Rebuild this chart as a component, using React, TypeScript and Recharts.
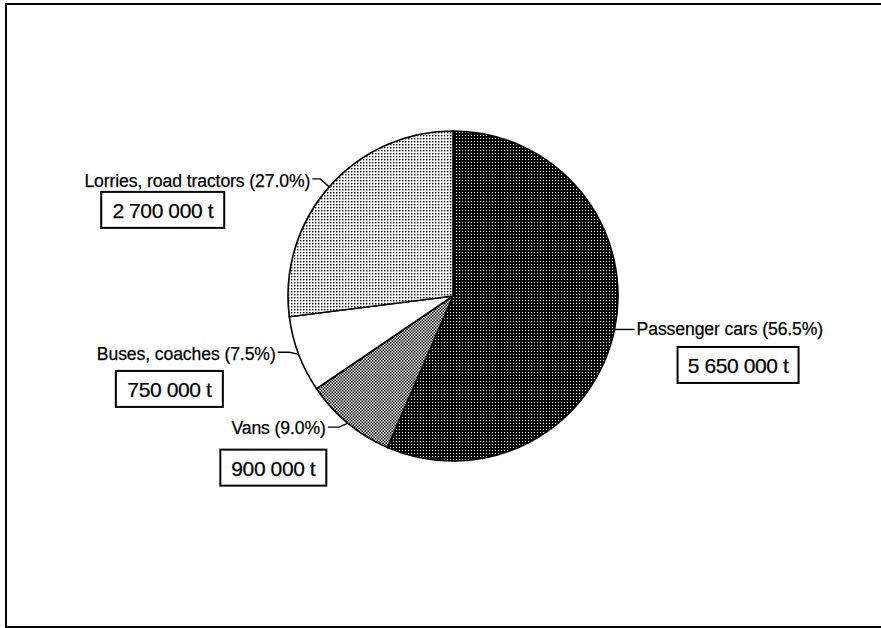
import { PieChart, Pie, Cell } from "recharts";

const categories = ["Passenger cars", "Vans", "Buses, coaches", "Lorries, road tractors"];
const percents = [56.5, 9.0, 7.5, 27.0];
const tonnes = [5650000, 900000, 750000, 2700000];

const fills = ["url(#dark)", "url(#checker)", "#ffffff", "url(#light)"];

// label placement relative to the slice edge at the mid angle
const labelLayout = [
  { elbow: [20, 0], text: [22, 0], anchor: "start", box: [123.5, 35.5], boxW: 121 },
  { elbow: [-9, 4], text: [-22, 5], anchor: "end", box: [-74.5, 44.5], boxW: 106 },
  { elbow: [-9, -2], text: [-23, 0], anchor: "end", box: [-129.3, 34.6], boxW: 107 },
  { elbow: [-9, -8], text: [-19, -6], anchor: "end", box: [-166.5, 23], boxW: 123 },
];

const data = categories.map((name, i) => ({ name, value: percents[i], t: tonnes[i] }));

const RAD = Math.PI / 180;
const FONT = "'Liberation Sans', Arial, Helvetica, sans-serif";

function fmtT(v: number) {
  return v.toString().replace(/\B(?=(\d{3})+(?!\d))/g, " ") + " t";
}

function renderLabel(props: any) {
  const { cx, cy, midAngle, outerRadius, index } = props;
  const ex = cx + outerRadius * Math.cos(-midAngle * RAD);
  const ey = cy + outerRadius * Math.sin(-midAngle * RAD);
  const L = labelLayout[index];
  const bx = ex + L.box[0];
  const by = ey + L.box[1];
  const bh = 36;
  return (
    <g key={"lbl" + index}>
      <polyline
        points={`${ex},${ey} ${ex + L.elbow[0]},${ey + L.elbow[1]} ${ex + L.text[0] + (L.anchor === "end" ? 2 : -2)},${ey + L.elbow[1]}`}
        fill="none"
        stroke="#000"
        strokeWidth={1.4}
      />
      <text
        x={ex + L.text[0]}
        y={ey + L.text[1]}
        textAnchor={L.anchor}
        dominantBaseline="central"
        fontSize={17.6}
        letterSpacing={-0.1}
        fontFamily={FONT}
        fill="#000"
        stroke="#000"
        strokeWidth={0.25}
      >
        {`${categories[index]} (${percents[index].toFixed(1)}%)`}
      </text>
      <rect x={bx - L.boxW / 2} y={by - bh / 2} width={L.boxW} height={bh} fill="#fff" stroke="#000" strokeWidth={2} />
      <text
        x={bx}
        y={by + 1}
        textAnchor="middle"
        dominantBaseline="central"
        fontSize={21}
        letterSpacing={-0.4}
        fontFamily={FONT}
        fill="#000"
        stroke="#000"
        strokeWidth={0.25}
      >
        {fmtT(tonnes[index])}
      </text>
    </g>
  );
}

export default function App() {
  return (
    <div style={{ position: "absolute", left: 0, top: 0, width: 881, height: 628, overflow: "hidden", background: "#fff" }}>
      <div
        style={{
          position: "absolute",
          left: 5,
          top: 3,
          width: 1000,
          height: 621,
          borderLeft: "2px solid #000",
          borderTop: "2px solid #000",
          borderBottom: "2px solid #000",
        }}
      />
      <div style={{ position: "absolute", left: 0, top: 0 }}>
        <PieChart width={881} height={628} margin={{ top: 0, right: 0, bottom: 0, left: 0 }}>
          <defs>
            <pattern id="dark" width={3} height={3} patternUnits="userSpaceOnUse">
              <rect width={3} height={3} fill="#000" />
              <rect width={1} height={1} fill="#fff" />
            </pattern>
            <pattern id="checker" width={3} height={3} patternUnits="userSpaceOnUse">
              <rect width={3} height={3} fill="#fff" />
              <rect width={1.5} height={1.5} fill="#000" />
              <rect x={1.5} y={1.5} width={1.5} height={1.5} fill="#000" />
            </pattern>
            <pattern id="light" width={3} height={3} patternUnits="userSpaceOnUse">
              <rect width={3} height={3} fill="#fff" />
              <rect width={1.4} height={1.4} fill="#000" />
            </pattern>
          </defs>
          <Pie
            data={data}
            dataKey="value"
            nameKey="name"
            cx={453}
            cy={296}
            outerRadius={165}
            startAngle={90}
            endAngle={-270}
            stroke="#000"
            strokeWidth={1.6}
            label={renderLabel}
            labelLine={false}
            isAnimationActive={false}
          >
            {data.map((d, i) => (
              <Cell key={d.name} fill={fills[i]} />
            ))}
          </Pie>
        </PieChart>
      </div>
    </div>
  );
}
